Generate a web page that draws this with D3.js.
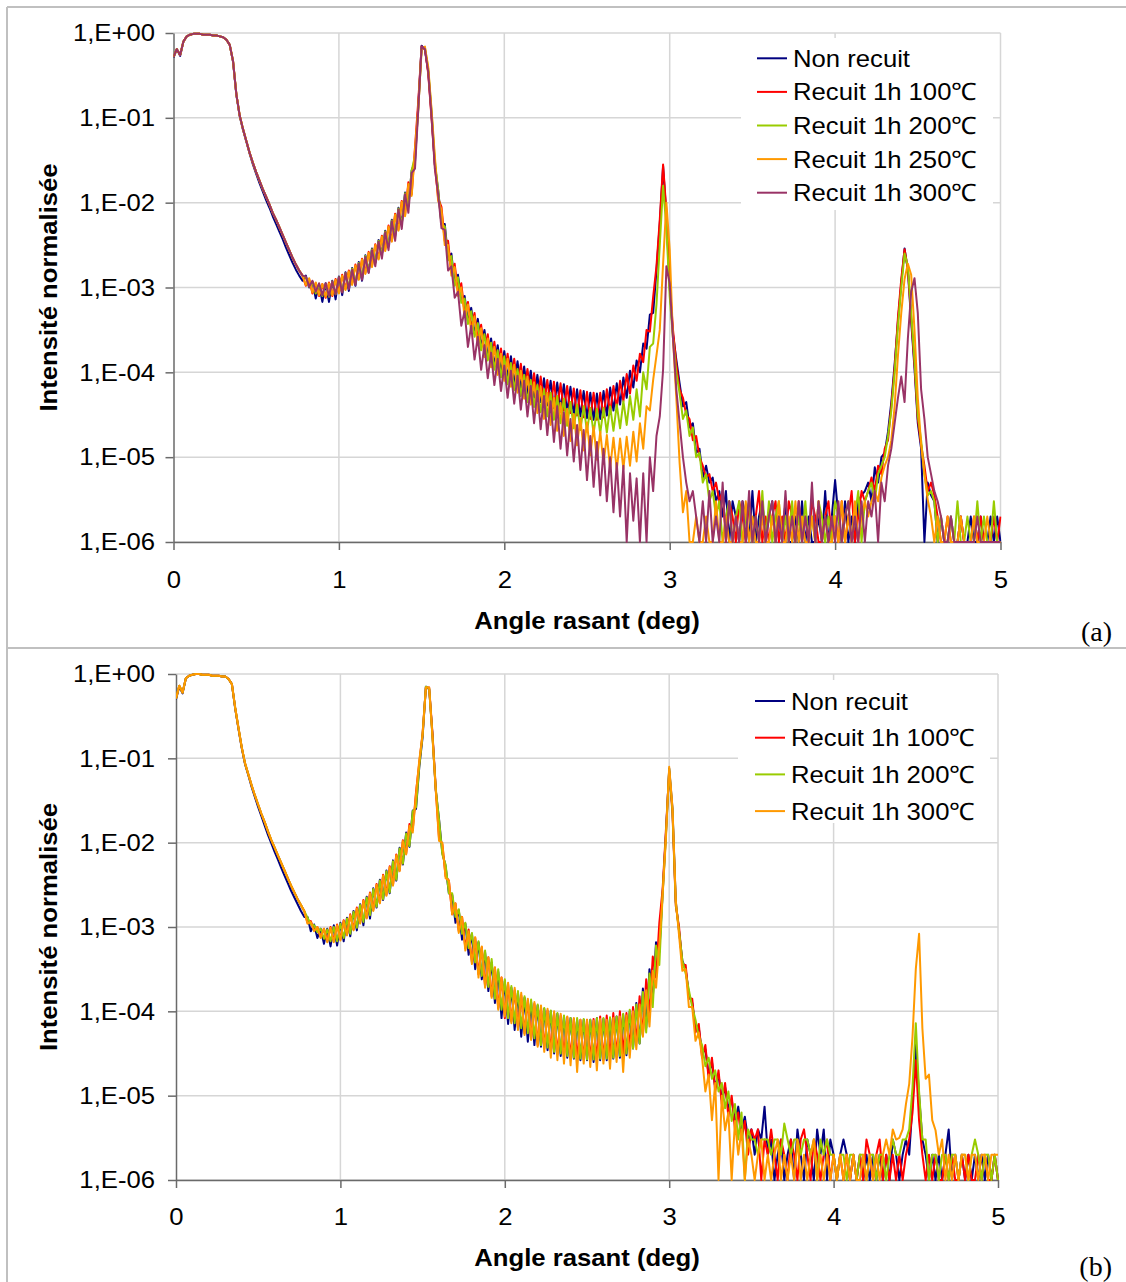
<!DOCTYPE html>
<html>
<head>
<meta charset="utf-8">
<script src="https://cdn.jsdelivr.net/npm/d3@7"></script>
<style>
  body { margin: 0; background: #fff; }
  svg { display: block; }
  text { font-family: "Liberation Sans", Arial, sans-serif; }
</style>
</head>
<body>
<svg id="fig" width="1126" height="1282"></svg>
<script>
// X-ray reflectivity scans, 0 to 5 deg grazing angle, sampled every 0.02 deg.
// Each series holds log10 of the normalised intensity; 1,E-06 is the floor.
const angles = d3.range(251).map(i => +(i * 0.02).toFixed(2));

const xTicks = [0, 1, 2, 3, 4, 5];
const yTicks = [1, 1e-1, 1e-2, 1e-3, 1e-4, 1e-5, 1e-6];
const yTickLabels = ["1,E+00", "1,E-01", "1,E-02", "1,E-03", "1,E-04", "1,E-05", "1,E-06"];

const legendA = ["Non recuit", "Recuit 1h 100\u2103", "Recuit 1h 200\u2103", "Recuit 1h 250\u2103", "Recuit 1h 300\u2103"];
const legendB = ["Non recuit", "Recuit 1h 100\u2103", "Recuit 1h 200\u2103", "Recuit 1h 300\u2103"];

// total reflection plateau and critical-angle drop, 0.00 to 0.78 deg
const startA = [
  -0.28,-0.19,-0.26,-0.10,-0.04,-0.02,-0.01,-0.01,-0.01,-0.02,
  -0.02,-0.02,-0.03,-0.03,-0.04,-0.05,-0.08,-0.14,-0.33,-0.72,
  -0.97,-1.13,-1.27,-1.41,-1.53,-1.64,-1.74,-1.84,-1.93,-2.02,
  -2.12,-2.20,-2.29,-2.38,-2.47,-2.56,-2.65,-2.73,-2.80,-2.86];
const startNonRecuitA = [
  -0.29,-0.19,-0.27,-0.10,-0.04,-0.02,-0.01,-0.01,-0.01,-0.02,
  -0.02,-0.02,-0.03,-0.03,-0.04,-0.05,-0.08,-0.14,-0.34,-0.73,
  -0.98,-1.14,-1.28,-1.42,-1.55,-1.66,-1.77,-1.87,-1.97,-2.06,
  -2.16,-2.25,-2.34,-2.43,-2.53,-2.62,-2.71,-2.79,-2.86,-2.92];
const startB = [
  -0.29,-0.14,-0.22,-0.05,-0.02,-0.01, 0.00, 0.00,-0.01,-0.01,
  -0.01,-0.02,-0.02,-0.02,-0.03,-0.03,-0.06,-0.12,-0.40,-0.64,
  -0.87,-1.06,-1.19,-1.32,-1.44,-1.55,-1.66,-1.76,-1.87,-1.97,
  -2.06,-2.15,-2.24,-2.33,-2.42,-2.51,-2.59,-2.67,-2.74,-2.81];
const startNonRecuitB = [
  -0.30,-0.15,-0.23,-0.05,-0.02,-0.01, 0.00, 0.00,-0.01,-0.01,
  -0.01,-0.02,-0.02,-0.02,-0.03,-0.03,-0.06,-0.12,-0.41,-0.65,
  -0.88,-1.07,-1.20,-1.34,-1.46,-1.58,-1.69,-1.80,-1.91,-2.01,
  -2.11,-2.20,-2.30,-2.39,-2.48,-2.57,-2.65,-2.73,-2.81,-2.88];

// ---- sample (a): 0.80 to 5.00 deg ----
const nonRecuitA = startNonRecuitA.concat([
  -2.86,-3.00,-2.93,-3.13,-2.96,-3.17,-2.95,-3.17,-2.92,-3.14,
  -2.87,-3.09,-2.82,-3.04,-2.77,-2.98,-2.70,-2.92,-2.62,-2.82,
  -2.54,-2.71,-2.44,-2.61,-2.33,-2.51,-2.20,-2.39,-2.06,-2.25,
  -1.88,-2.04,-1.62,-1.52,-0.85,-0.15,-0.20,-0.45,-0.95,-1.55,
  -1.85,-2.25,-2.25,-2.65,-2.60,-2.95,-2.85,-3.15,-3.10,-3.40,
  -3.24,-3.54,-3.37,-3.70,-3.50,-3.82,-3.60,-3.92,-3.68,-4.00,
  -3.75,-4.07,-3.81,-4.13,-3.87,-4.19,-3.93,-4.25,-3.98,-4.30,
  -4.03,-4.35,-4.07,-4.39,-4.10,-4.42,-4.12,-4.44,-4.14,-4.47,
  -4.17,-4.50,-4.20,-4.52,-4.22,-4.54,-4.24,-4.56,-4.25,-4.55,
  -4.22,-4.51,-4.18,-4.45,-4.13,-4.38,-4.06,-4.30,-3.98,-4.18,
  -3.86,-4.00,-3.66,-3.72,-3.32,-3.30,-2.80,-2.25,-1.57,-2.15,
  -3.00,-3.55,-3.85,-4.13,-4.40,-4.35,-4.65,-4.60,-4.95,-4.90,
  -5.24,-5.10,-5.30,-5.24,-5.52,-5.40,-5.70,-5.40,-6.00,-5.52,
  -5.70,-6.00,-5.52,-5.70,-6.00,-5.40,-6.00,-5.70,-5.52,-6.00,
  -5.70,-5.52,-6.00,-5.70,-6.00,-5.52,-6.00,-6.00,-5.70,-6.00,
  -5.52,-6.00,-5.70,-6.00,-6.00,-5.70,-6.00,-5.40,-6.00,-5.70,
  -5.27,-5.70,-6.00,-5.52,-6.00,-5.70,-6.00,-5.52,-5.45,-5.40,
  -5.30,-5.52,-5.12,-5.30,-5.00,-4.95,-4.70,-4.35,-3.90,-3.40,
  -2.95,-2.54,-2.80,-3.40,-3.95,-4.60,-4.90,-6.00,-5.30,-5.45,
  -5.52,-6.00,-5.70,-6.00,-6.00,-5.70,-6.00,-6.00,-5.70,-6.00,
  -6.00,-5.70,-6.00,-6.00,-5.70,-6.00,-6.00,-5.70,-6.00,-5.70,
  -6.00]);
const recuit100A = startA.concat([
  -2.98,-2.90,-3.07,-2.95,-3.10,-2.96,-3.12,-2.94,-3.10,-2.90,
  -3.06,-2.85,-3.02,-2.80,-2.96,-2.73,-2.90,-2.66,-2.83,-2.58,
  -2.75,-2.49,-2.66,-2.39,-2.56,-2.27,-2.45,-2.13,-2.32,-1.98,
  -2.15,-1.76,-1.90,-1.35,-0.80,-0.16,-0.18,-0.48,-1.00,-1.55,
  -1.95,-2.05,-2.45,-2.45,-2.82,-2.72,-3.05,-2.95,-3.30,-3.17,
  -3.47,-3.30,-3.62,-3.44,-3.76,-3.55,-3.88,-3.64,-3.96,-3.72,
  -4.04,-3.78,-4.10,-3.84,-4.16,-3.90,-4.22,-3.96,-4.28,-4.01,
  -4.33,-4.05,-4.37,-4.09,-4.41,-4.11,-4.43,-4.13,-4.45,-4.16,
  -4.48,-4.19,-4.51,-4.21,-4.53,-4.23,-4.55,-4.24,-4.56,-4.24,
  -4.53,-4.20,-4.48,-4.16,-4.42,-4.10,-4.34,-4.02,-4.25,-3.92,
  -4.10,-3.78,-3.88,-3.50,-3.52,-3.11,-2.75,-2.20,-1.55,-2.10,
  -2.95,-3.50,-3.90,-4.20,-4.30,-4.50,-4.55,-4.80,-4.75,-5.00,
  -5.10,-5.24,-5.20,-5.40,-5.30,-5.52,-5.40,-6.00,-5.52,-5.70,
  -6.00,-5.52,-5.70,-6.00,-5.52,-6.00,-5.70,-5.40,-6.00,-5.70,
  -6.00,-5.70,-5.52,-6.00,-5.70,-6.00,-5.52,-5.70,-6.00,-5.52,
  -6.00,-5.70,-6.00,-5.52,-5.70,-6.00,-6.00,-5.70,-5.52,-6.00,
  -5.70,-6.00,-5.52,-6.00,-5.70,-5.40,-6.00,-5.70,-5.40,-5.52,
  -5.40,-5.24,-5.40,-5.10,-5.20,-4.90,-4.80,-4.40,-3.95,-3.35,
  -2.90,-2.55,-2.78,-3.35,-3.90,-4.55,-4.85,-5.10,-5.40,-5.30,
  -5.45,-5.70,-6.00,-6.00,-5.70,-6.00,-6.00,-6.00,-5.70,-6.00,
  -6.00,-6.00,-5.70,-6.00,-5.70,-6.00,-6.00,-6.00,-5.70,-6.00,
  -5.70]);
const recuit200A = startA.concat([
  -2.88,-2.99,-2.94,-3.07,-2.97,-3.10,-2.96,-3.11,-2.93,-3.08,
  -2.88,-3.05,-2.83,-3.00,-2.78,-2.95,-2.71,-2.89,-2.63,-2.80,
  -2.55,-2.71,-2.45,-2.61,-2.34,-2.50,-2.21,-2.40,-2.07,-2.26,
  -1.89,-2.05,-1.62,-1.45,-0.90,-0.18,-0.17,-0.42,-0.92,-1.50,
  -1.85,-2.25,-2.28,-2.68,-2.63,-2.98,-2.88,-3.18,-3.13,-3.43,
  -3.28,-3.58,-3.42,-3.74,-3.55,-3.86,-3.65,-3.97,-3.74,-4.06,
  -3.81,-4.14,-3.89,-4.21,-3.96,-4.28,-4.03,-4.35,-4.09,-4.41,
  -4.15,-4.47,-4.20,-4.52,-4.24,-4.56,-4.28,-4.60,-4.31,-4.63,
  -4.35,-4.66,-4.38,-4.68,-4.40,-4.70,-4.42,-4.72,-4.43,-4.72,
  -4.42,-4.71,-4.40,-4.69,-4.38,-4.66,-4.34,-4.62,-4.28,-4.56,
  -4.20,-4.52,-4.00,-4.20,-3.70,-3.66,-3.20,-2.50,-1.80,-2.30,
  -3.10,-3.60,-4.00,-4.25,-4.55,-4.45,-4.75,-4.65,-5.00,-4.95,
  -5.30,-5.20,-5.52,-5.40,-5.70,-5.52,-6.00,-5.70,-5.52,-6.00,
  -5.70,-5.52,-6.00,-5.70,-5.52,-6.00,-5.70,-6.00,-5.40,-6.00,
  -5.52,-6.00,-5.70,-5.52,-6.00,-5.70,-6.00,-5.52,-6.00,-5.70,
  -6.00,-5.52,-6.00,-5.70,-6.00,-5.52,-5.70,-6.00,-5.70,-6.00,
  -5.52,-5.70,-6.00,-5.70,-5.52,-6.00,-5.70,-5.40,-6.00,-5.52,
  -5.40,-5.30,-5.52,-5.20,-5.10,-5.00,-4.75,-4.45,-4.00,-3.45,
  -3.00,-2.60,-2.75,-3.30,-3.85,-4.50,-4.80,-5.20,-5.45,-5.40,
  -5.52,-6.00,-5.70,-6.00,-6.00,-5.70,-6.00,-5.52,-6.00,-6.00,
  -5.70,-6.00,-6.00,-5.52,-6.00,-5.70,-6.00,-6.00,-5.52,-6.00,
  -6.00]);
const recuit250A = startA.concat([
  -2.97,-2.89,-3.06,-2.94,-3.09,-2.96,-3.11,-2.95,-3.09,-2.91,
  -3.07,-2.86,-3.03,-2.81,-2.97,-2.74,-2.91,-2.67,-2.84,-2.59,
  -2.76,-2.50,-2.67,-2.40,-2.57,-2.28,-2.46,-2.14,-2.33,-1.99,
  -2.16,-1.78,-1.92,-1.38,-0.88,-0.20,-0.16,-0.40,-0.90,-1.45,
  -1.98,-2.08,-2.50,-2.50,-2.86,-2.76,-3.10,-3.00,-3.35,-3.20,
  -3.52,-3.34,-3.68,-3.48,-3.82,-3.60,-3.94,-3.70,-4.03,-3.78,
  -4.10,-3.84,-4.17,-3.91,-4.24,-3.98,-4.31,-4.05,-4.38,-4.12,
  -4.48,-4.17,-4.55,-4.24,-4.62,-4.30,-4.69,-4.36,-4.75,-4.43,
  -4.81,-4.49,-4.86,-4.54,-4.92,-4.59,-4.98,-4.64,-5.03,-4.70,
  -5.08,-4.74,-5.13,-4.77,-5.15,-4.78,-5.14,-4.76,-5.10,-4.70,
  -5.05,-4.60,-4.90,-4.40,-4.45,-4.09,-3.80,-3.50,-2.72,-2.00,
  -2.55,-3.60,-4.30,-5.07,-5.65,-5.40,-6.00,-6.00,-5.70,-6.00,
  -6.00,-5.70,-6.00,-6.00,-5.52,-6.00,-6.00,-5.70,-6.00,-6.00,
  -5.70,-6.00,-6.00,-5.52,-6.00,-5.70,-6.00,-6.00,-5.70,-6.00,
  -6.00,-5.70,-6.00,-5.52,-6.00,-6.00,-5.70,-6.00,-5.52,-6.00,
  -5.70,-6.00,-6.00,-5.70,-6.00,-5.52,-6.00,-5.70,-6.00,-6.00,
  -5.70,-6.00,-5.52,-6.00,-5.70,-6.00,-5.52,-6.00,-5.70,-5.52,
  -5.70,-5.52,-5.40,-5.52,-5.24,-5.10,-5.00,-4.80,-4.40,-3.80,
  -3.30,-2.90,-2.72,-2.85,-3.50,-4.30,-4.85,-5.20,-5.50,-5.70,
  -6.00,-5.70,-6.00,-6.00,-5.70,-6.00,-6.00,-6.00,-5.70,-6.00,
  -6.00,-6.00,-5.70,-6.00,-6.00,-6.00,-5.70,-6.00,-6.00,-6.00,
  -6.00]);
const recuit300A = startA.concat([
  -2.87,-2.99,-2.92,-3.05,-2.95,-3.09,-2.95,-3.10,-2.93,-3.08,
  -2.88,-3.06,-2.83,-3.02,-2.79,-2.97,-2.72,-2.91,-2.64,-2.83,
  -2.56,-2.75,-2.46,-2.66,-2.35,-2.56,-2.22,-2.45,-2.08,-2.31,
  -1.90,-2.12,-1.65,-1.60,-0.90,-0.16,-0.19,-0.46,-0.98,-1.60,
  -1.90,-2.30,-2.32,-2.80,-2.75,-3.12,-3.05,-3.45,-3.28,-3.70,
  -3.45,-3.85,-3.58,-3.97,-3.68,-4.07,-3.77,-4.15,-3.84,-4.22,
  -3.92,-4.30,-3.98,-4.37,-4.04,-4.44,-4.10,-4.52,-4.16,-4.60,
  -4.22,-4.67,-4.28,-4.74,-4.34,-4.82,-4.40,-4.90,-4.47,-4.98,
  -4.55,-5.05,-4.62,-5.15,-4.68,-5.27,-4.75,-5.35,-4.82,-5.45,
  -4.90,-5.52,-5.00,-5.65,-5.07,-5.70,-5.10,-6.00,-5.19,-5.75,
  -5.25,-6.00,-5.19,-6.00,-5.00,-5.40,-4.75,-4.52,-3.97,-2.75,
  -2.95,-3.60,-4.20,-4.60,-5.00,-5.30,-5.52,-5.40,-5.70,-6.00,
  -5.52,-6.00,-5.40,-6.00,-5.70,-6.00,-5.30,-6.00,-5.52,-6.00,
  -5.70,-6.00,-5.52,-6.00,-5.40,-6.00,-5.70,-6.00,-5.52,-6.00,
  -5.70,-5.52,-6.00,-5.70,-6.00,-5.40,-6.00,-5.70,-6.00,-5.52,
  -6.00,-5.70,-6.00,-5.30,-6.00,-5.52,-6.00,-5.70,-6.00,-5.70,
  -6.00,-5.52,-6.00,-5.70,-5.52,-6.00,-5.70,-6.00,-5.52,-6.00,
  -5.52,-5.70,-5.40,-6.00,-5.30,-5.52,-5.10,-4.90,-4.60,-4.30,
  -4.05,-4.35,-3.60,-3.05,-2.89,-3.30,-4.20,-4.55,-5.00,-5.20,
  -5.40,-5.52,-5.70,-6.00,-6.00,-5.70,-6.00,-6.00,-6.00,-6.00,
  -6.00,-6.00,-6.00,-5.70,-6.00,-6.00,-6.00,-6.00,-6.00,-6.00,
  -6.00]);

// ---- sample (b): 0.80 to 5.00 deg ----
const nonRecuitB = startNonRecuitB.concat([
  -2.88,-3.05,-2.97,-3.13,-3.02,-3.20,-3.02,-3.23,-2.98,-3.22,
  -2.95,-3.17,-2.89,-3.11,-2.81,-3.04,-2.73,-2.98,-2.64,-2.90,
  -2.54,-2.77,-2.44,-2.68,-2.33,-2.60,-2.21,-2.45,-2.06,-2.26,
  -1.88,-2.05,-1.62,-1.60,-1.10,-0.75,-0.15,-0.18,-0.72,-1.38,
  -1.72,-2.12,-2.28,-2.60,-2.62,-2.95,-2.80,-3.15,-2.96,-3.33,
  -3.08,-3.50,-3.18,-3.62,-3.30,-3.76,-3.42,-3.90,-3.53,-4.08,
  -3.64,-4.15,-3.72,-4.22,-3.78,-4.30,-3.84,-4.36,-3.89,-4.40,
  -3.93,-4.42,-3.97,-4.46,-4.00,-4.50,-4.03,-4.53,-4.06,-4.55,
  -4.08,-4.56,-4.10,-4.58,-4.10,-4.58,-4.10,-4.60,-4.08,-4.58,
  -4.09,-4.58,-4.08,-4.56,-4.06,-4.55,-4.04,-4.52,-4.00,-4.44,
  -3.90,-4.38,-3.73,-4.20,-3.50,-3.85,-3.18,-3.30,-2.60,-1.90,
  -1.12,-1.60,-2.70,-3.05,-3.40,-3.50,-3.80,-3.90,-4.20,-4.20,
  -4.50,-4.45,-4.75,-4.60,-4.90,-4.75,-5.05,-4.90,-5.15,-5.05,
  -5.30,-5.13,-5.40,-5.25,-5.52,-5.40,-5.70,-5.40,-5.52,-5.13,
  -5.70,-5.52,-6.00,-5.70,-5.52,-6.00,-5.70,-5.52,-6.00,-5.40,
  -5.70,-6.00,-5.52,-5.70,-6.00,-5.40,-5.70,-5.40,-6.00,-5.52,
  -5.70,-6.00,-5.70,-5.52,-5.70,-6.00,-5.70,-6.00,-5.70,-6.00,
  -5.70,-6.00,-5.70,-6.00,-5.70,-6.00,-5.70,-6.00,-5.52,-5.70,
  -6.00,-5.70,-5.52,-5.70,-5.10,-4.38,-5.00,-5.52,-5.70,-6.00,
  -5.70,-6.00,-5.70,-6.00,-5.70,-5.40,-6.00,-5.70,-6.00,-5.70,
  -6.00,-5.70,-6.00,-5.70,-6.00,-5.70,-6.00,-5.70,-6.00,-5.70,
  -6.00]);
const recuit100B = startB.concat([
  -2.95,-2.93,-3.04,-3.00,-3.12,-3.02,-3.17,-3.00,-3.17,-2.97,
  -3.15,-2.92,-3.09,-2.85,-3.03,-2.77,-2.95,-2.68,-2.89,-2.59,
  -2.80,-2.49,-2.71,-2.38,-2.62,-2.28,-2.50,-2.14,-2.33,-1.97,
  -2.13,-1.78,-1.85,-1.40,-1.05,-0.70,-0.16,-0.16,-0.70,-1.35,
  -1.95,-2.02,-2.40,-2.45,-2.85,-2.72,-3.05,-2.88,-3.25,-3.03,
  -3.42,-3.13,-3.56,-3.24,-3.70,-3.36,-3.82,-3.48,-3.96,-3.60,
  -4.08,-3.68,-4.12,-3.75,-4.20,-3.81,-4.26,-3.87,-4.32,-3.91,
  -4.40,-3.95,-4.44,-3.99,-4.48,-4.02,-4.51,-4.05,-4.54,-4.07,
  -4.56,-4.09,-4.57,-4.10,-4.58,-4.10,-4.58,-4.09,-4.58,-4.06,
  -4.58,-4.05,-4.56,-4.02,-4.54,-4.00,-4.50,-4.02,-4.42,-3.95,
  -4.36,-3.82,-4.28,-3.62,-4.02,-3.35,-3.60,-2.95,-2.55,-1.85,
  -1.15,-1.65,-2.75,-3.00,-3.45,-3.45,-3.85,-3.85,-4.25,-4.15,
  -4.55,-4.40,-4.80,-4.55,-4.95,-4.70,-5.10,-4.85,-5.25,-5.00,
  -5.40,-5.20,-5.52,-5.30,-5.70,-5.40,-5.52,-5.40,-6.00,-5.52,
  -5.70,-5.40,-5.70,-6.00,-5.52,-5.70,-6.00,-5.52,-5.70,-6.00,
  -5.52,-5.40,-5.70,-6.00,-5.52,-5.70,-6.00,-5.70,-5.52,-6.00,
  -5.70,-6.00,-5.70,-6.00,-5.70,-6.00,-5.70,-6.00,-5.70,-6.00,
  -5.52,-5.70,-6.00,-5.70,-5.52,-6.00,-5.70,-6.00,-5.70,-6.00,
  -5.70,-6.00,-5.70,-5.52,-5.20,-4.58,-5.30,-5.70,-6.00,-5.70,
  -6.00,-5.70,-6.00,-6.00,-5.70,-6.00,-5.70,-6.00,-6.00,-5.70,
  -6.00,-5.70,-6.00,-6.00,-5.70,-6.00,-5.70,-6.00,-6.00,-5.70,
  -6.00]);
const recuit200B = startB.concat([
  -2.89,-2.97,-2.98,-3.06,-3.02,-3.14,-3.03,-3.17,-3.00,-3.17,
  -2.96,-3.13,-2.90,-3.08,-2.82,-3.01,-2.74,-2.94,-2.65,-2.86,
  -2.55,-2.76,-2.45,-2.67,-2.34,-2.59,-2.22,-2.44,-2.07,-2.25,
  -1.89,-2.04,-1.63,-1.58,-1.08,-0.72,-0.15,-0.17,-0.74,-1.36,
  -1.73,-2.14,-2.26,-2.60,-2.60,-2.88,-2.79,-3.08,-2.95,-3.25,
  -3.07,-3.42,-3.17,-3.58,-3.28,-3.71,-3.38,-3.85,-3.50,-3.98,
  -3.62,-4.08,-3.70,-4.14,-3.76,-4.20,-3.82,-4.26,-3.86,-4.32,
  -3.92,-4.40,-3.96,-4.43,-3.99,-4.48,-4.02,-4.50,-4.05,-4.53,
  -4.08,-4.55,-4.08,-4.56,-4.09,-4.57,-4.10,-4.57,-4.08,-4.56,
  -4.08,-4.56,-4.07,-4.55,-4.06,-4.53,-4.03,-4.50,-3.98,-4.44,
  -3.92,-4.38,-3.77,-4.25,-3.55,-3.95,-3.22,-3.45,-2.62,-1.92,
  -1.13,-1.62,-2.72,-3.05,-3.40,-3.55,-3.75,-3.95,-4.10,-4.30,
  -4.40,-4.65,-4.55,-4.80,-4.70,-4.95,-4.85,-5.15,-4.95,-5.30,
  -5.10,-5.52,-5.20,-6.00,-5.40,-5.52,-5.52,-5.70,-5.52,-5.52,
  -5.52,-5.70,-5.52,-5.52,-5.70,-5.33,-5.52,-5.70,-5.52,-5.52,
  -5.70,-5.52,-5.52,-5.70,-5.52,-6.00,-5.52,-5.70,-5.52,-5.70,
  -5.70,-6.00,-5.70,-5.70,-6.00,-5.70,-5.70,-6.00,-5.70,-5.70,
  -6.00,-5.70,-5.70,-6.00,-5.70,-5.70,-6.00,-5.70,-5.52,-5.70,
  -5.70,-5.52,-5.52,-5.40,-4.90,-4.14,-4.95,-5.52,-5.52,-6.00,
  -5.70,-5.70,-6.00,-5.70,-5.70,-6.00,-5.70,-5.70,-6.00,-5.70,
  -5.70,-6.00,-5.70,-5.52,-5.70,-6.00,-5.70,-5.70,-6.00,-5.70,
  -6.00]);
const recuit300B = startB.concat([
  -2.96,-2.94,-3.05,-3.00,-3.13,-3.02,-3.18,-3.01,-3.18,-2.98,
  -3.16,-2.93,-3.10,-2.86,-3.04,-2.78,-2.96,-2.69,-2.90,-2.60,
  -2.81,-2.50,-2.72,-2.39,-2.63,-2.29,-2.51,-2.15,-2.34,-1.98,
  -2.14,-1.80,-1.88,-1.42,-1.02,-0.72,-0.16,-0.16,-0.74,-1.38,
  -1.98,-2.00,-2.42,-2.45,-2.85,-2.72,-3.07,-2.88,-3.28,-3.05,
  -3.44,-3.12,-3.60,-3.23,-3.72,-3.36,-3.84,-3.48,-3.98,-3.60,
  -4.06,-3.66,-4.14,-3.72,-4.22,-3.78,-4.28,-3.85,-4.34,-3.89,
  -4.42,-3.93,-4.48,-3.97,-4.55,-4.00,-4.58,-4.03,-4.62,-4.06,
  -4.64,-4.08,-4.72,-4.10,-4.62,-4.10,-4.66,-4.11,-4.70,-4.09,
  -4.62,-4.10,-4.68,-4.08,-4.60,-4.06,-4.72,-4.05,-4.55,-4.00,
  -4.45,-3.92,-4.30,-3.75,-4.18,-3.52,-3.72,-3.20,-2.62,-1.95,
  -1.10,-1.58,-2.68,-3.10,-3.52,-3.50,-3.95,-3.95,-4.35,-4.25,
  -4.55,-4.95,-4.75,-5.29,-4.85,-6.00,-5.00,-5.41,-5.20,-6.00,
  -5.30,-5.70,-5.40,-6.00,-5.52,-5.70,-6.00,-5.70,-5.52,-6.00,
  -5.70,-6.00,-5.70,-5.52,-6.00,-5.70,-6.00,-5.70,-6.00,-5.52,
  -6.00,-5.70,-6.00,-5.70,-5.52,-6.00,-5.70,-6.00,-5.70,-6.00,
  -5.70,-6.00,-5.70,-6.00,-5.70,-6.00,-5.70,-6.00,-6.00,-5.70,
  -6.00,-5.70,-6.00,-5.70,-6.00,-5.70,-5.52,-5.70,-5.40,-5.52,
  -5.50,-5.40,-5.10,-4.86,-4.30,-3.50,-3.08,-4.20,-4.80,-4.75,
  -5.29,-5.41,-5.70,-5.52,-6.00,-5.70,-6.00,-5.70,-6.00,-5.70,
  -5.70,-6.00,-5.70,-5.70,-6.00,-5.70,-5.70,-6.00,-5.70,-5.70,
  -5.70]);

const seriesA = [nonRecuitA, recuit100A, recuit200A, recuit250A, recuit300A];
const seriesB = [nonRecuitB, recuit100B, recuit200B, recuit300B];
const coloursA = ["#000080", "#ff0000", "#99cc00", "#ff9900", "#993366"];
const coloursB = ["#000080", "#ff0000", "#99cc00", "#ff9900"];

// the labels use Arial metrics widened slightly
const STRETCH = 1.07;

const svg = d3.select("#fig");

// panel frames
const frame = svg.append("g").attr("stroke", "#c0c0c0").attr("stroke-width", 2).attr("fill", "none");
frame.append("line").attr("x1", 7).attr("x2", 1126).attr("y1", 7).attr("y2", 7);
frame.append("line").attr("x1", 7).attr("x2", 7).attr("y1", 7).attr("y2", 1282);
frame.append("line").attr("x1", 7).attr("x2", 1126).attr("y1", 648).attr("y2", 648);

function drawPanel(p) {
  const g = svg.append("g");
  const x = d3.scaleLinear().domain([0, 5]).range([p.left, p.right]);
  const y = d3.scaleLog().domain([1e-6, 1]).range([p.bottom, p.top]);

  // gridlines
  const grid = g.append("g").attr("stroke", "#d6d6d6").attr("stroke-width", 1.5);
  grid.selectAll("line.h").data(yTicks).join("line").attr("class", "h")
    .attr("x1", p.left).attr("x2", p.right)
    .attr("y1", d => y(d)).attr("y2", d => y(d));
  grid.selectAll("line.v").data(xTicks.slice(1)).join("line").attr("class", "v")
    .attr("x1", d => x(d)).attr("x2", d => x(d))
    .attr("y1", p.top).attr("y2", p.bottom);

  // axes
  const yAxis = g.append("g").attr("transform", `translate(${p.left},0)`)
    .call(d3.axisLeft(y).tickValues(yTicks).tickFormat((d, i) => yTickLabels[i])
      .tickSize(8).tickSizeOuter(0).tickPadding(10));
  const xAxis = g.append("g").attr("transform", `translate(0,${p.bottom})`)
    .call(d3.axisBottom(x).tickValues(xTicks).tickFormat(d3.format("d"))
      .tickSize(8).tickSizeOuter(0).tickPadding(p.xPad));
  [yAxis, xAxis].forEach(a => {
    a.selectAll("path.domain").attr("stroke", "#6a6a6a").attr("stroke-width", 1.5);
    a.selectAll(".tick line").attr("stroke", "#6a6a6a").attr("stroke-width", 1.5);
    a.selectAll("text").attr("font-size", 24).attr("fill", "#000")
      .style("font-family", '"Liberation Sans", Arial, sans-serif');
  });
  yAxis.selectAll(".tick text").attr("x", 0)
    .attr("transform", `translate(${-(p.left - 155)},0) scale(${STRETCH},1)`);
  xAxis.selectAll(".tick text").attr("transform", `scale(${STRETCH},1)`);

  // curves
  const clipId = "clip-" + p.id;
  g.append("clipPath").attr("id", clipId).append("rect")
    .attr("x", p.left).attr("y", p.top - 2)
    .attr("width", p.right - p.left + 1).attr("height", p.bottom - p.top + 4);
  const line = d3.line()
    .x((d, i) => x(angles[i]))
    .y(d => y(Math.pow(10, d)));
  g.append("g").attr("clip-path", `url(#${clipId})`)
    .selectAll("path").data(p.series).join("path")
    .attr("d", d => line(d))
    .attr("fill", "none")
    .attr("stroke", (d, i) => p.colours[i])
    .attr("stroke-width", 2)
    .attr("stroke-linejoin", "round");

  // legend
  const lg = g.append("g");
  lg.append("rect").attr("x", p.legend.x).attr("y", p.legend.y)
    .attr("width", p.legend.w).attr("height", p.legend.h).attr("fill", "#fff");
  const items = lg.selectAll("g.item").data(p.labels).join("g").attr("class", "item")
    .attr("transform", (d, i) => `translate(0,${p.legend.first + i * p.legend.step})`);
  items.append("line").attr("x1", p.legend.lineX).attr("x2", p.legend.lineX + 30)
    .attr("stroke", (d, i) => p.colours[i]).attr("stroke-width", 2);
  items.append("text")
    .attr("transform", `translate(${p.legend.lineX + 36},8.5) scale(${STRETCH},1)`)
    .attr("font-size", 24).text(d => d);

  // axis titles
  g.append("text")
    .attr("transform", `translate(587,${p.bottom + p.xTitleOffset}) scale(${STRETCH},1)`)
    .attr("text-anchor", "middle").attr("font-size", 24).attr("font-weight", "bold")
    .text("Angle rasant (deg)");
  g.append("text")
    .attr("transform", `translate(57,${(p.top + p.bottom) / 2}) rotate(-90) scale(${STRETCH},1)`)
    .attr("text-anchor", "middle").attr("font-size", 24).attr("font-weight", "bold")
    .text("Intensité normalisée");

  // panel tag
  g.append("text").attr("x", 1112).attr("y", p.tagY).attr("text-anchor", "end")
    .attr("font-size", 28).style("font-family", '"Liberation Serif", "Times New Roman", serif')
    .text(p.tag);
}

drawPanel({
  id: "a", left: 173.5, right: 1000.5, top: 33, bottom: 542, xPad: 21,
  series: seriesA, colours: coloursA, labels: legendA,
  legend: { x: 741, y: 38, w: 252, h: 172, first: 58.3, step: 33.6, lineX: 757 },
  xTitleOffset: 87, tagY: 641, tag: "(a)"
});
drawPanel({
  id: "b", left: 176, right: 998, top: 674, bottom: 1180, xPad: 20,
  series: seriesB, colours: coloursB, labels: legendB,
  legend: { x: 738, y: 680, w: 252, h: 143, first: 701, step: 36.7, lineX: 755 },
  xTitleOffset: 86, tagY: 1276, tag: "(b)"
});
</script>
</body>
</html>
